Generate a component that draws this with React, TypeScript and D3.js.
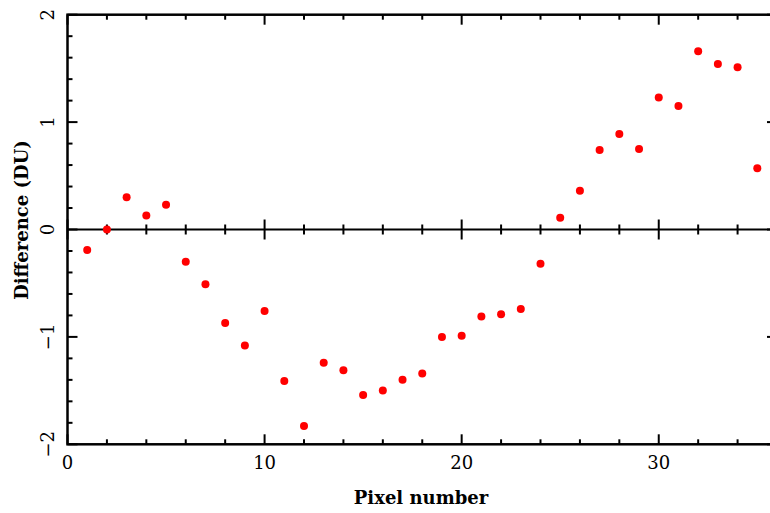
import React from 'react';
import * as d3 from 'd3';

// pixel number vs difference (DU)
const pixels = [1, 2, 3, 4, 5, 6, 7, 8, 9, 10, 11, 12, 13, 14, 15, 16, 17, 18,
  19, 20, 21, 22, 23, 24, 25, 26, 27, 28, 29, 30, 31, 32, 33, 34, 35];
const differences = [-0.19, 0.0, 0.30, 0.13, 0.23, -0.30, -0.51, -0.87, -1.08, -0.76,
  -1.41, -1.83, -1.24, -1.31, -1.54, -1.50, -1.40, -1.34, -1.00, -0.99, -0.81, -0.79,
  -0.74, -0.32, 0.11, 0.36, 0.74, 0.89, 0.75, 1.23, 1.15, 1.66, 1.54, 1.51, 0.57];

const xLabels = [0, 10, 20, 30];
const yLabels = [-2, -1, 0, 1, 2];

const W = 770;
const H = 513;
const font = '"DejaVu Serif", serif';

const x = d3.scaleLinear().domain([0, 36]).range([67.5, 777]);
const y = d3.scaleLinear().domain([-2, 2]).range([444.3, 14.7]);

const xMinor = x.ticks(18);
const yMinor = y.ticks(20);

export default function App() {
  const [x0, x1] = x.range();
  const [yb, yt] = y.range();
  const y0 = y(0);
  const isMajorX = (v: number) => Math.abs(v % 10) < 1e-9;
  const isMajorY = (v: number) => Math.abs(v - Math.round(v)) < 1e-9;

  return (
    <svg width={W} height={H} style={{ position: 'fixed', left: 0, top: 0, background: '#fff' }}>
      {/* frame */}
      <rect x={x0} y={yt} width={x1 - x0} height={yb - yt} fill="none" stroke="#000" strokeWidth={2.5} />
      {/* zero line */}
      <line x1={x0} x2={x1} y1={y0} y2={y0} stroke="#000" strokeWidth={2} />

      {/* x ticks: bottom, top, zero line */}
      {xMinor.map(v => {
        const len = isMajorX(v) ? 10 : 5;
        const px = x(v);
        return (
          <g key={'xt' + v} stroke="#000" strokeWidth={2}>
            <line x1={px} x2={px} y1={yb} y2={yb - len} />
            <line x1={px} x2={px} y1={yt} y2={yt + len} />
            <line x1={px} x2={px} y1={y0 - len} y2={y0 + len} />
          </g>
        );
      })}

      {/* y ticks: left and right */}
      {yMinor.map(v => {
        const len = isMajorY(v) ? 10 : 5;
        const py = y(v);
        return (
          <g key={'yt' + v} stroke="#000" strokeWidth={2}>
            <line x1={x0} x2={x0 + len} y1={py} y2={py} />
            <line x1={x1} x2={x1 - len} y1={py} y2={py} />
          </g>
        );
      })}

      {/* tick labels */}
      {xLabels.map(v => (
        <text key={'xl' + v} x={x(v)} y={469} textAnchor="middle" fontFamily={font} fontSize={18}>
          {v}
        </text>
      ))}
      {yLabels.map(v => (
        <text
          key={'yl' + v}
          transform={`translate(54,${y(v)}) rotate(-90)`}
          textAnchor="middle"
          fontFamily={font}
          fontSize={18}
        >
          {v < 0 ? '\u2212' + Math.abs(v) : v}
        </text>
      ))}

      {/* axis titles */}
      <text x={421} y={504} textAnchor="middle" fontFamily={font} fontSize={18} fontWeight="bold">
        Pixel number
      </text>
      <text
        transform="translate(28,220) rotate(-90)"
        textAnchor="middle"
        fontFamily={font}
        fontSize={18}
        fontWeight="bold"
      >
        Difference (DU)
      </text>

      {/* points */}
      {pixels.map((p, i) => (
        <circle key={'pt' + p} cx={x(p)} cy={y(differences[i])} r={4} fill="#f00" />
      ))}
    </svg>
  );
}
